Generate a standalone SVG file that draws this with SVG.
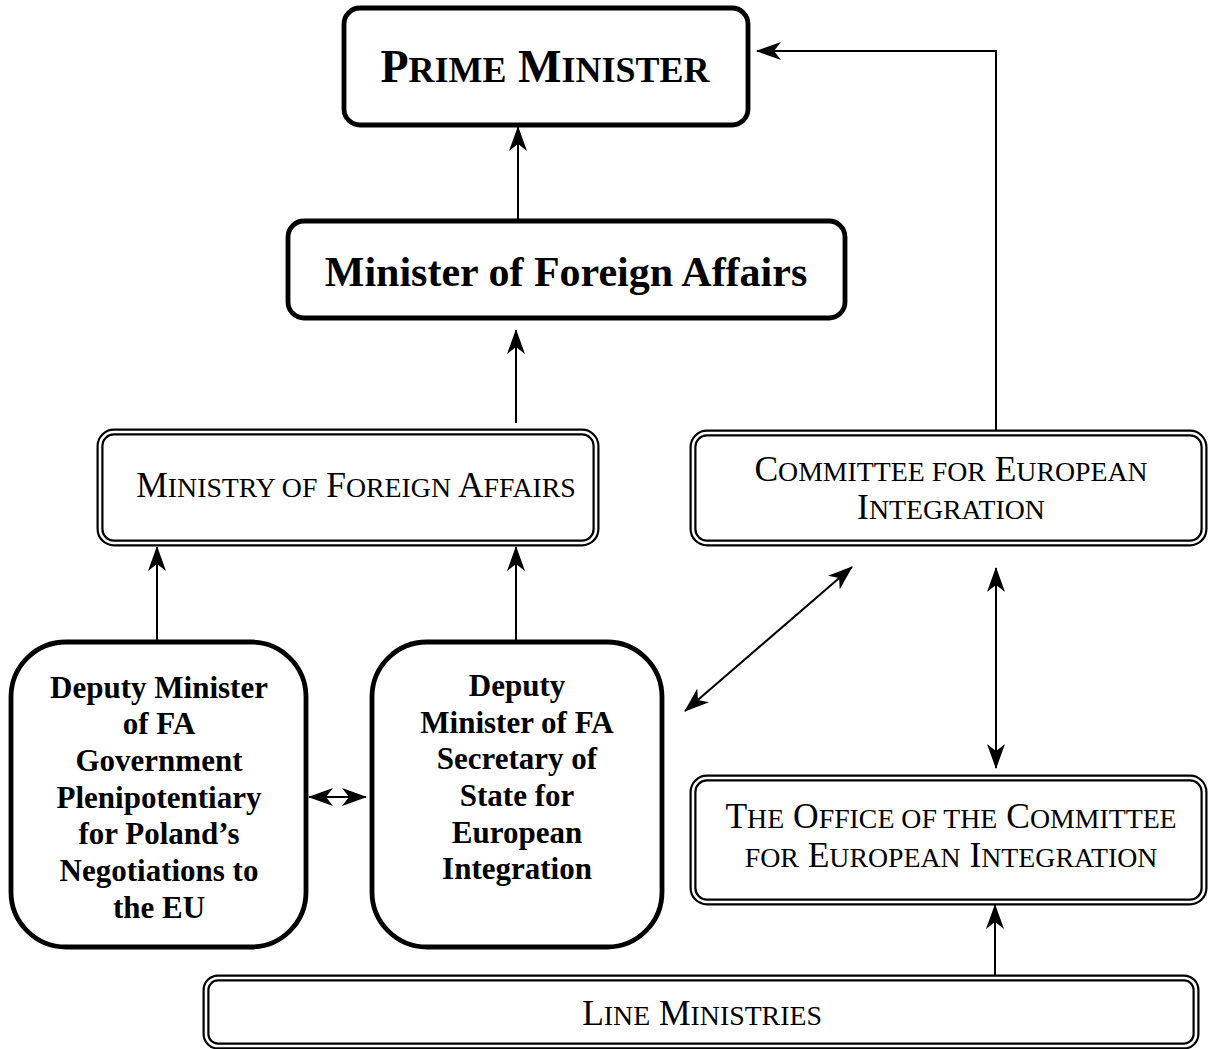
<svg xmlns="http://www.w3.org/2000/svg" width="1213" height="1049" viewBox="0 0 1213 1049">
<style>
.bg{fill:#fff}
.thick{fill:#fff;stroke:#000;stroke-width:4.8}
.dblo{fill:#fff;stroke:#000;stroke-width:7}
.dbli{fill:none;stroke:#fff;stroke-width:2.6}
.t{font-family:"Liberation Serif","Times New Roman",serif;fill:#000;text-anchor:middle}
.b{font-weight:bold}
.c{fill:none;stroke:#000;stroke-width:2}
</style>
<defs>
<marker id="ah" viewBox="0 0 25 18" refX="24" refY="9" markerWidth="25" markerHeight="18" markerUnits="userSpaceOnUse" orient="auto-start-reverse">
<path d="M0,0 L25,9 L0,18 L7,9 z" fill="#000"/>
</marker>
</defs>
<rect class="bg" width="1213" height="1049"/>
<g id="connectors">
<line class="c" x1="518" y1="219" x2="518" y2="127" marker-end="url(#ah)"/>
<line class="c" x1="516" y1="423" x2="516" y2="330" marker-end="url(#ah)"/>
<line class="c" x1="157" y1="640" x2="157" y2="547" marker-end="url(#ah)"/>
<line class="c" x1="516" y1="640" x2="516" y2="547" marker-end="url(#ah)"/>
<line class="c" x1="309" y1="797" x2="366" y2="797" marker-start="url(#ah)" marker-end="url(#ah)"/>
<line class="c" x1="685" y1="711" x2="852" y2="567" marker-start="url(#ah)" marker-end="url(#ah)"/>
<line class="c" x1="996" y1="568" x2="996" y2="768" marker-start="url(#ah)" marker-end="url(#ah)"/>
<line class="c" x1="995" y1="975" x2="995" y2="905" marker-end="url(#ah)"/>
<path class="c" d="M996,432 V51 H757" marker-end="url(#ah)"/>
</g>
<g id="prime-minister">
<rect class="thick" x="344" y="8" width="404" height="117" rx="16"/>
<text class="t b" x="545" y="82" font-size="46">P<tspan font-size="36">RIME</tspan> M<tspan font-size="36">INISTER</tspan></text>
</g>
<g id="minister-fa">
<rect class="thick" x="288" y="221" width="557" height="97" rx="16"/>
<text class="t b" x="566" y="286" font-size="42">Minister of Foreign Affairs</text>
</g>
<g id="ministry-fa">
<rect class="dblo" x="100" y="432" width="496" height="111" rx="14"/>
<rect class="dbli" x="100" y="432" width="496" height="111" rx="14"/>
<text class="t" x="356" y="497" font-size="35.5">M<tspan font-size="27.8">INISTRY OF</tspan> F<tspan font-size="27.8">OREIGN</tspan> A<tspan font-size="27.8">FFAIRS</tspan></text>
</g>
<g id="committee">
<rect class="dblo" x="693" y="433" width="511" height="110" rx="14"/>
<rect class="dbli" x="693" y="433" width="511" height="110" rx="14"/>
<text class="t" x="951" y="481" font-size="35.5">C<tspan font-size="27.8">OMMITTEE FOR</tspan> E<tspan font-size="27.8">UROPEAN</tspan></text>
<text class="t" x="951" y="519" font-size="35.5">I<tspan font-size="27.8">NTEGRATION</tspan></text>
</g>
<g id="deputy-left">
<rect class="thick" x="11" y="642" width="295" height="305" rx="55"/>
<g class="t b" font-size="31">
<text x="159" y="698">Deputy Minister</text>
<text x="159" y="734">of FA</text>
<text x="159" y="771">Government</text>
<text x="159" y="808">Plenipotentiary</text>
<text x="159" y="844">for Poland’s</text>
<text x="159" y="881">Negotiations to</text>
<text x="159" y="918">the EU</text>
</g>
</g>
<g id="deputy-right">
<rect class="thick" x="372" y="642" width="290" height="305" rx="55"/>
<g class="t b" font-size="31">
<text x="517" y="696">Deputy</text>
<text x="517" y="733">Minister of FA</text>
<text x="517" y="769">Secretary of</text>
<text x="517" y="806">State for</text>
<text x="517" y="843">European</text>
<text x="517" y="879">Integration</text>
</g>
</g>
<g id="office">
<rect class="dblo" x="693" y="778" width="511" height="124" rx="14"/>
<rect class="dbli" x="693" y="778" width="511" height="124" rx="14"/>
<text class="t" x="951" y="828" font-size="35.5">T<tspan font-size="27.8">HE</tspan> O<tspan font-size="27.8">FFICE OF THE</tspan> C<tspan font-size="27.8">OMMITTEE</tspan></text>
<text class="t" x="951" y="867" font-size="35.5"><tspan font-size="27.8">FOR</tspan> E<tspan font-size="27.8">UROPEAN</tspan> I<tspan font-size="27.8">NTEGRATION</tspan></text>
</g>
<g id="line-ministries">
<rect class="dblo" x="206" y="978" width="990" height="68" rx="12"/>
<rect class="dbli" x="206" y="978" width="990" height="68" rx="12"/>
<text class="t" x="702" y="1025" font-size="35.5">L<tspan font-size="27.8">INE</tspan> M<tspan font-size="27.8">INISTRIES</tspan></text>
</g>
</svg>
